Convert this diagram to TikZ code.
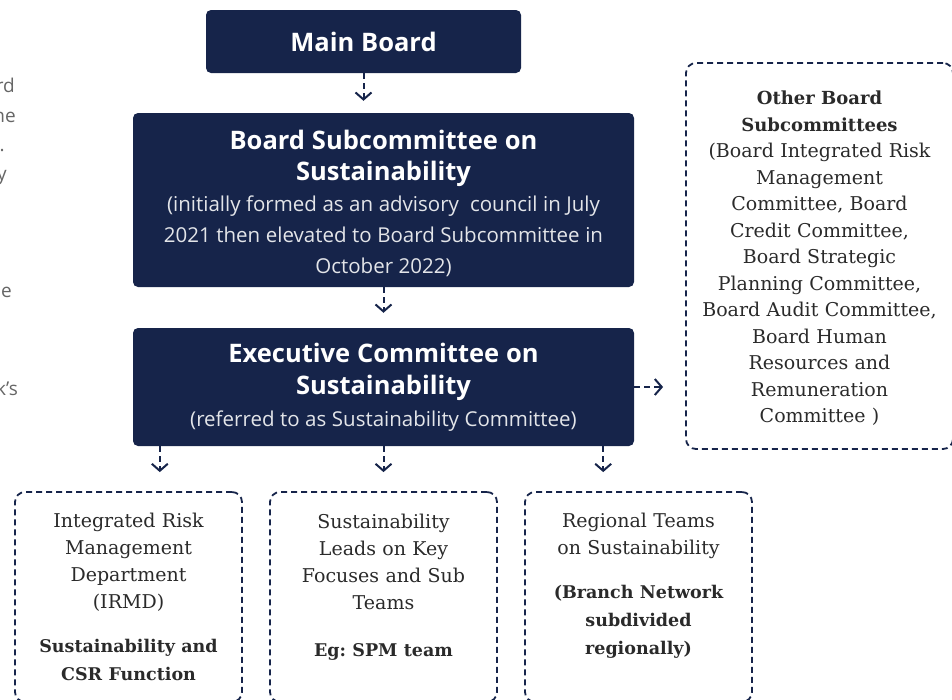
\documentclass[tikz,border=0pt]{standalone}
\usepackage{fontspec}
\setmainfont{Open Sans}
\newfontfamily\slabfont{DejaVu Serif}
\usetikzlibrary{positioning,arrows.meta}
\frenchspacing
\definecolor{cNavy}{HTML}{16244A}
\definecolor{cInk}{HTML}{2A2A2A}
\definecolor{cGrey}{HTML}{666666}
\newcommand{\headfont}{\bfseries\fontsize{25.5}{31}\selectfont\spaceskip=.27em\relax}
\newcommand{\subfont}{\fontsize{20.5}{31}\selectfont\spaceskip=.27em\relax\color{white!88!cNavy}}
\newcommand{\boldslab}{\bfseries\fontsize{17.5}{28}\selectfont}
\newcommand{\padlow}[1]{\rule[-#1]{0pt}{#1}}
\newcommand{\padhigh}[1]{\rule{0pt}{#1}}
\tikzset{
  navybox/.style={fill=cNavy,rounded corners=5pt,text=white,align=center,inner sep=0pt},
  dashbox/.style={draw=cNavy,line width=1.8pt,dash pattern=on 6pt off 4pt,rounded corners=10pt,
    text=cInk,align=center,inner sep=0pt,font=\slabfont\fontsize{19}{27}\selectfont},
  flow/.style={draw=cNavy,line width=2pt,dash pattern=on 6pt off 4pt,
    -{Straight Barb[length=7pt,width=16pt]}},
  sidetxt/.style={anchor=base east,inner sep=0pt,text=cGrey,font=\fontsize{19}{29}\selectfont},
}

\begin{document}
\begin{tikzpicture}[x=1pt,y=-1pt]
  \useasboundingbox (0,0) rectangle (952,699);
  % text of the page running in from the left
  \node[sidetxt] (s1) at (15,92) {rd};
  \node[sidetxt] (s2) at (16,122) {ne};
  \node[sidetxt] (s3) at (5,151) {.};
  \node[sidetxt] (s4) at (7,180) {y};
  \node[sidetxt] (s5) at (12,297) {e};
  \node[sidetxt] (s6) at (18,395) {k’s};

  % board chain
  \node[navybox,minimum width=315pt,minimum height=63pt] (mainb) at (363.5,41.5) {\headfont Main Board};
  \node[navybox,minimum width=501pt,minimum height=174pt,text width=480pt] (bsc) at (383.5,200) {%
    {\headfont\padhigh{27pt}Board Subcommittee on\\ Sustainability\par}
    {\subfont (initially formed as an advisory~ council in July\\
      2021 then elevated to Board Subcommittee in\\ October 2022)\par}};
  \node[navybox,minimum width=501pt,minimum height=118pt,text width=480pt] (exec) at (383.5,387) {%
    {\headfont\baselineskip=32pt Executive Committee on\\ Sustainability\par}
    {\subfont\baselineskip=32pt (referred to as Sustainability Committee)\par}};

  % dashed boxes
  \node[dashbox,minimum width=267pt,minimum height=386pt,text width=255pt,
    font=\slabfont\fontsize{19}{26.5}\selectfont] (other) at (819.5,256) {%
    {\bfseries\fontsize{18}{26.5}\selectfont\padhigh{18.5pt}Other Board\\ Subcommittees\par}
    (Board Integrated Risk\\ Management\\ Committee, Board\\ Credit Committee,\\
    Board Strategic\\ Planning Committee,\\ Board Audit Committee,\\ Board Human\\
    Resources and\\ Remuneration\\ Committee )};
  \node[dashbox,minimum width=227pt,minimum height=210pt,text width=215pt] (irmd) at (128.5,597) {%
    {\padhigh{15pt}Integrated Risk\\ Management\\ Department\\ (IRMD)\par}\vspace{16pt}
    {\boldslab Sustainability and\\ CSR Function\par}};
  \node[dashbox,minimum width=227pt,minimum height=210pt,text width=215pt] (leads) at (383.5,597) {%
    {Sustainability\\ Leads on Key\\ Focuses and Sub\\ Teams\par}\vspace{19pt}
    {\boldslab Eg: SPM team\padlow{24.4pt}\par}};
  \node[dashbox,minimum width=227pt,minimum height=210pt,text width=215pt] (regio) at (638.5,597) {%
    {Regional Teams\\ on Sustainability\par}\vspace{16pt}
    {\boldslab (Branch Network\\ subdivided\\ regionally)\padlow{27.4pt}\par}};

  % connectors
  \draw[flow,shorten >=12pt] (mainb.south) -- (mainb.south |- bsc.north);
  \draw[flow,shorten >=15pt] (bsc.south) -- (exec.north);
  \draw[flow,shorten >=22pt] (exec.east) -- (exec.east -| other.west);
  \draw[flow,shorten >=19pt] ([xshift=27pt]exec.south west) -- ([xshift=27pt]exec.south west |- irmd.north);
  \draw[flow,shorten >=19pt] (exec.south) -- (leads.north);
  \draw[flow,shorten >=19pt] ([xshift=-31pt]exec.south east) -- ([xshift=-31pt]exec.south east |- regio.north);
\end{tikzpicture}
\end{document}
